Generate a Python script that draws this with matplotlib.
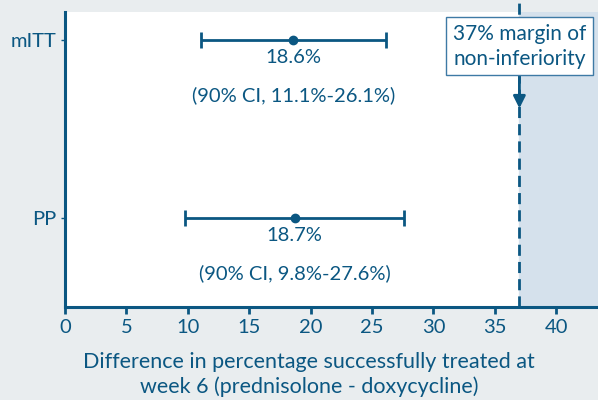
import matplotlib.pyplot as plt

plt.rcParams['font.family'] = ['Lato', 'DejaVu Sans']

groups = ["mITT", "PP"]
estimates = [18.6, 18.7]
ci_low = [11.1, 9.8]
ci_high = [26.1, 27.6]
margin = 37
xticks = [0, 5, 10, 15, 20, 25, 30, 35, 40]

blue = "#0b5782"
bg = "#e9edef"
shade = "#d5e1ec"

fig = plt.figure(figsize=(5.98, 4.0), dpi=100, facecolor=bg)
ax = fig.add_axes([0.1087, 0.2325, 0.8913, 0.7375])
ax.set_facecolor("white")

ypos = [1, 0]
ax.set_xlim(0, 43.4)
ax.set_ylim(-0.5, 1.157)

ax.axvspan(margin, 43.4, color=shade, zorder=0)

for y, est, lo, hi in zip(ypos, estimates, ci_low, ci_high):
    ax.errorbar(est, y, xerr=[[est - lo], [hi - est]], fmt="o", color=blue,
                markersize=6, elinewidth=2, capsize=6, capthick=2, zorder=3)
    ax.text(est, y - 0.1, f"{est}%", ha="center", va="center", color=blue, fontsize=14.5)
    ax.text(est, y - 0.31, f"(90% CI, {lo}%-{hi}%)", ha="center", va="center",
            color=blue, fontsize=14.5)

# margin line, drawn past the top of the axes
ax.plot([margin, margin], [-0.5, 1.23], color=blue, lw=2, ls=(0, (4, 2.2)),
        clip_on=False, zorder=2)
ax.annotate("", xy=(margin, 0.6), xytext=(margin, 0.84),
            arrowprops=dict(arrowstyle="-|>", color=blue, lw=2, mutation_scale=18),
            zorder=4)
ax.text(37.0, 0.965, "37% margin of\nnon-inferiority", ha="center", va="center",
        color=blue, fontsize=15, linespacing=1.3, zorder=5,
        bbox=dict(boxstyle="square,pad=0.33", fc="white", ec="#3e7aa5", lw=1))

ax.set_yticks(ypos)
ax.set_yticklabels(groups)
ax.set_xticks(xticks)
ax.tick_params(axis="x", colors=blue, labelsize=14.5, width=2, length=5, labelcolor=blue)
ax.tick_params(axis="y", colors=blue, labelsize=14.5, width=1, length=3, labelcolor=blue)

for s in ["top", "right"]:
    ax.spines[s].set_visible(False)
for s in ["left", "bottom"]:
    ax.spines[s].set_color(blue)
    ax.spines[s].set_linewidth(2.2)

ax.set_xlabel("Difference in percentage successfully treated at\nweek 6 (prednisolone - doxycycline)",
              color=blue, fontsize=15.5, labelpad=12, linespacing=1.25)
ax.xaxis.label.set_x(0.458)

fig.savefig("out.png", dpi=100, facecolor=bg)
